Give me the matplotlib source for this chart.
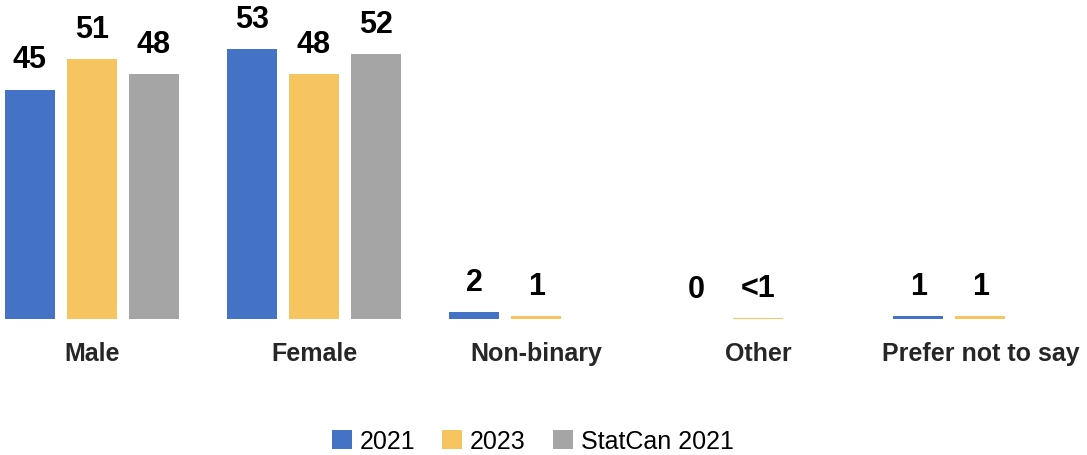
import matplotlib.pyplot as plt
import numpy as np

plt.rcParams['font.family'] = ['Liberation Sans', 'DejaVu Sans']

categories = ["Male", "Female", "Non-binary", "Other", "Prefer not to say"]
series_names = ["2021", "2023", "StatCan 2021"]
# bar heights (small ones) and the printed labels
vals_2021 = [45, 53, 1.3, 0, 0.6]
vals_2023 = [51, 48, 0.6, 0.2, 0.6]
vals_statcan = [48, 52, None, None, None]
labels_2021 = ["45", "53", "2", "0", "1"]
labels_2023 = ["51", "48", "1", "<1", "1"]
labels_statcan = ["48", "52", "", "", ""]

colors = ["#4472C4", "#F7C55F", "#A5A5A5"]

fig = plt.figure(figsize=(10.87, 4.56), dpi=100)
ax = fig.add_axes([0, 0.298, 1, 0.702])

x = np.arange(len(categories))
width = 0.225
step = 0.279
all_vals = [vals_2021, vals_2023, vals_statcan]
all_labels = [labels_2021, labels_2023, labels_statcan]
for i, (vals, labs) in enumerate(zip(all_vals, all_labels)):
	offs = (i - 1) * step
	xs = [xx + offs for xx, v in zip(x, vals) if v is not None]
	hs = [v for v in vals if v is not None]
	ax.bar(xs, hs, width=width, color=colors[i], label=series_names[i])
	for xx, v, lab in zip(x, vals, labs):
		if v is None or lab == "":
			continue
		ax.annotate(lab, (xx + offs, v), xytext=(0, 11), textcoords="offset points",
					ha="center", va="bottom", fontsize=22, fontweight="bold", color="black")

ax.set_xlim(-0.414, 4.48)
ax.set_ylim(0, 62.8)
ax.set_xticks(x)
ax.set_xticklabels(categories, fontsize=18, fontweight="bold", color="#262626")
ax.tick_params(axis="x", length=0, pad=16)
ax.set_yticks([])
for s in ax.spines.values():
	s.set_visible(False)

fig.legend(loc="center", bbox_to_anchor=(0.49, 0.03), ncol=3, frameon=False,
		   fontsize=18, handlelength=0.8, handleheight=0.8, handletextpad=0.3,
		   columnspacing=1.1)

fig.savefig("out.png", dpi=100)
